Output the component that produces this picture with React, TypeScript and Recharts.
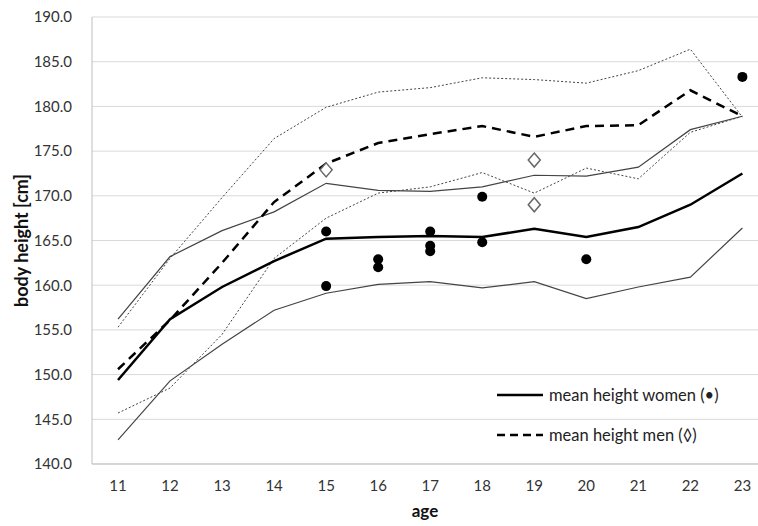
import React from "react";
import { ComposedChart, Line, Scatter, XAxis, YAxis, CartesianGrid } from "recharts";

const ages = [11, 12, 13, 14, 15, 16, 17, 18, 19, 20, 21, 22, 23];
const womenMean = [149.4, 156.2, 159.8, 162.7, 165.2, 165.4, 165.5, 165.4, 166.3, 165.4, 166.5, 169.0, 172.5];
const womenHigh = [156.2, 163.2, 166.1, 168.2, 171.4, 170.6, 170.5, 171.0, 172.3, 172.2, 173.2, 177.4, 178.9];
const womenLow = [142.7, 149.3, 153.4, 157.2, 159.1, 160.1, 160.4, 159.7, 160.4, 158.5, 159.8, 160.9, 166.4];
const menMean = [150.6, 156.1, 162.5, 169.3, 173.6, 175.9, 176.9, 177.8, 176.6, 177.8, 177.9, 181.8, 178.9];
const menHigh = [155.3, 163.0, 169.8, 176.4, 179.9, 181.6, 182.1, 183.2, 183.0, 182.6, 184.0, 186.4, 178.8];
const menLow = [145.7, 148.5, 154.5, 163.0, 167.5, 170.3, 171.0, 172.6, 170.3, 173.1, 171.9, 177.1, 178.9];

const womenDotAges = [15, 15, 16, 16, 17, 17, 17, 18, 18, 20, 23];
const womenDotHeights = [166.0, 159.9, 162.9, 162.0, 166.0, 164.4, 163.8, 169.9, 164.8, 162.9, 183.3];
const menDotAges = [15, 19, 19];
const menDotHeights = [172.9, 174.0, 169.0];

const yTicks = [140, 145, 150, 155, 160, 165, 170, 175, 180, 185, 190];

const legendItems = [
  { label: "mean height women (\u2022)", dash: undefined },
  { label: "mean height men (\u25ca)", dash: "8 5" },
];

const rows = ages.map((age, i) => ({
  age,
  wMean: womenMean[i],
  wHigh: womenHigh[i],
  wLow: womenLow[i],
  mMean: menMean[i],
  mHigh: menHigh[i],
  mLow: menLow[i],
}));

const womenDots = womenDotAges.map((age, i) => ({ age, h: womenDotHeights[i] }));
const menDots = menDotAges.map((age, i) => ({ age, h: menDotHeights[i] }));

const font = "Lato, 'Open Sans', sans-serif";

const Dot = (props: any) => <circle cx={props.cx} cy={props.cy} r={5} fill="#000" />;
const Diamond = (props: any) => {
  const { cx, cy } = props;
  return (
    <polygon
      points={`${cx},${cy - 7} ${cx + 6},${cy} ${cx},${cy + 7} ${cx - 6},${cy}`}
      fill="#fff"
      stroke="#666"
      strokeWidth={1.5}
    />
  );
};

function LegendBox() {
  return (
    <div style={{ position: "absolute", left: 495, top: 375, fontFamily: font, fontSize: 16.5, color: "#222" }}>
      {legendItems.map((item) => (
        <div key={item.label} style={{ display: "flex", alignItems: "center", height: 40 }}>
          <svg width={50} height={10}>
            <line x1={2} y1={5} x2={48} y2={5} stroke="#000" strokeWidth={2.5} strokeDasharray={item.dash} />
          </svg>
          <span style={{ marginLeft: 4 }}>{item.label}</span>
        </div>
      ))}
    </div>
  );
}

export default function App() {
  return (
    <div style={{ position: "absolute", left: 0, top: 0, width: 758, height: 526, background: "#fff" }}>
      <ComposedChart width={758} height={526} data={rows} margin={{ top: 17, right: 0, bottom: 0, left: 0 }}>
        <CartesianGrid vertical={false} stroke="#d9d9d9" strokeWidth={1} />
        <XAxis
          dataKey="age"
          type="number"
          domain={[10.5, 23.3]}
          ticks={ages}
          allowDataOverflow
          interval={0}
          height={62}
          axisLine={{ stroke: "#bfbfbf" }}
          tickLine={false}
          tick={{ fontFamily: font, fontSize: 15, fill: "#333" }}
          tickMargin={10}
          label={{ value: "age", position: "insideBottom", offset: 9, fontFamily: font, fontSize: 17, fontWeight: "bold", fill: "#111" }}
        />
        <YAxis
          type="number"
          domain={[140, 190]}
          ticks={yTicks}
          width={92}
          axisLine={{ stroke: "#bfbfbf" }}
          tickLine={false}
          tickFormatter={(v: number) => v.toFixed(1)}
          tick={{ fontFamily: font, fontSize: 15, fill: "#333" }}
          tickMargin={14}
          label={{ value: "body height [cm]", angle: -90, position: "insideLeft", offset: 22, style: { textAnchor: "middle" }, fontFamily: font, fontSize: 18, fontWeight: "bold", fill: "#111" }}
        />
        <Line dataKey="mHigh" stroke="#444" strokeWidth={1} strokeDasharray="2 2" dot={false} isAnimationActive={false} />
        <Line dataKey="mLow" stroke="#444" strokeWidth={1} strokeDasharray="2 2" dot={false} isAnimationActive={false} />
        <Line dataKey="wHigh" stroke="#444" strokeWidth={1.2} dot={false} isAnimationActive={false} />
        <Line dataKey="wLow" stroke="#444" strokeWidth={1.2} dot={false} isAnimationActive={false} />
        <Line dataKey="mMean" stroke="#000" strokeWidth={2.5} strokeDasharray="9 6" dot={false} isAnimationActive={false} />
        <Line dataKey="wMean" stroke="#000" strokeWidth={2.5} dot={false} isAnimationActive={false} />
        <Scatter data={womenDots} dataKey="h" shape={Dot} isAnimationActive={false} />
        <Scatter data={menDots} dataKey="h" shape={Diamond} isAnimationActive={false} />
      </ComposedChart>
      <LegendBox />
    </div>
  );
}
